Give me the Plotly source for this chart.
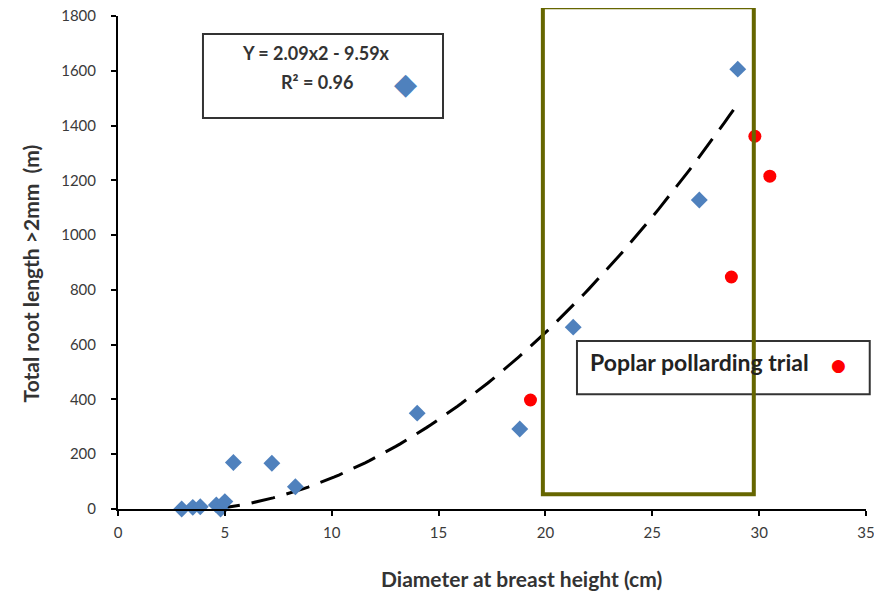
import numpy as np
import plotly.graph_objects as go

# ---- data ----
dbh_main = [2.98, 3.5, 3.85, 4.6, 4.8, 5.0, 5.4, 7.2, 8.3, 14.0, 18.8, 21.3, 27.2, 29.0]
root_main = [0, 6, 8, 15, 0, 27, 170, 167, 81, 350, 292, 664, 1128, 1606]

dbh_poplar = [19.3, 28.7, 29.8, 30.5]
root_poplar = [398, 847, 1361, 1215]

fit_a, fit_b = 2.09, -9.59          # Y = a*x^2 + b*x
fit_x_start, fit_x_end = 4.59, 29.0

x_ticks = [0, 5, 10, 15, 20, 25, 30, 35]
y_ticks = [0, 200, 400, 600, 800, 1000, 1200, 1400, 1600, 1800]

equation_line1 = "Y = 2.09x2 - 9.59x"
equation_line2 = "R² = 0.96"
poplar_text = "Poplar pollarding trial"
x_title = "Diameter at breast height (cm)"
y_title = "Total root length >2mm  (m)"

BLUE = "#4F81BD"
RED = "#FF0000"
OLIVE = "#666600"
FONT = "Lato, Liberation Sans, Arial, sans-serif"
TXT = "#333333"

fx = np.linspace(fit_x_start, fit_x_end, 120)
fy = fit_a * fx ** 2 + fit_b * fx

fig = go.Figure()
fig.add_trace(go.Scatter(
    x=fx, y=fy, mode="lines",
    line=dict(color="black", width=3, dash="24px,12px"),
    hoverinfo="skip", showlegend=False,
))
fig.add_trace(go.Scatter(
    x=dbh_main, y=root_main, mode="markers",
    marker=dict(symbol="diamond", size=13, color=BLUE),
    showlegend=False, cliponaxis=False,
))
fig.add_trace(go.Scatter(
    x=dbh_poplar, y=root_poplar, mode="markers",
    marker=dict(symbol="circle", size=13, color=RED),
    showlegend=False, cliponaxis=False,
))

axis_common = dict(
    showgrid=False, zeroline=False, showline=True, linecolor="black", linewidth=2,
    ticks="outside", ticklen=5, tickwidth=1.5, tickcolor="black", automargin=False,
    ticklabeloverflow="allow",
    tickfont=dict(family=FONT, size=15, color="#3a3a3a"),
)
fig.update_xaxes(range=[0, 35], tickvals=x_ticks, ticklabelstandoff=4, **axis_common)
fig.update_yaxes(range=[0, 1800], tickvals=y_ticks, ticklabelstandoff=12, **axis_common)

shapes = [
    dict(type="rect", xref="paper", yref="paper", x0=0.1136, x1=0.4345, y0=0.793, y1=0.9635,
         line=dict(color="#333333", width=2), fillcolor="rgba(0,0,0,0)"),
    dict(type="rect", xref="paper", yref="paper", x0=0.6136, x1=1.005, y0=0.233, y1=0.341,
         line=dict(color="#333333", width=2), fillcolor="white", layer="below"),
    dict(type="rect", xref="paper", yref="paper", x0=0.568, x1=0.850, y0=0.030, y1=1.018,
         line=dict(color=OLIVE, width=4), fillcolor="rgba(0,0,0,0)"),
]

annotations = [
    dict(xref="paper", yref="paper", x=0.2647, y=0.925, text="<b>" + equation_line1 + "</b>",
         showarrow=False, font=dict(family=FONT, size=18, color=TXT),
         xanchor="center", yanchor="middle"),
    dict(xref="paper", yref="paper", x=0.266, y=0.866, text="<b>" + equation_line2 + "</b>",
         showarrow=False, font=dict(family=FONT, size=18, color=TXT),
         xanchor="center", yanchor="middle"),
    dict(xref="paper", yref="paper", x=0.385, y=0.864, text="◆", showarrow=False,
         font=dict(family="DejaVu Sans", size=30, color=BLUE), xanchor="center", yanchor="middle"),
    dict(xref="paper", yref="paper", x=0.628, y=0.298, text="<b>" + poplar_text + "</b>",
         showarrow=False, font=dict(family=FONT, size=23, color="#222222"),
         xanchor="left", yanchor="middle"),
    dict(xref="paper", yref="paper", x=0.9626, y=0.292, text="●", showarrow=False,
         font=dict(family="DejaVu Sans", size=17, color=RED), xanchor="center", yanchor="middle"),
    dict(xref="paper", yref="paper", x=0.54, y=-0.14, text="<b>" + x_title + "</b>",
         showarrow=False, font=dict(family=FONT, size=21, color=TXT),
         xanchor="center", yanchor="middle"),
    dict(xref="paper", yref="paper", x=-0.1176, y=0.478, text="<b>" + y_title + "</b>",
         showarrow=False, textangle=-90, font=dict(family=FONT, size=21, color=TXT),
         xanchor="center", yanchor="middle"),
]

# page body has an 8px default margin: size the figure so the plot lands where the reference has it
fig.update_layout(
    width=874, height=586,
    margin=dict(l=110, r=16, t=8, b=85),
    paper_bgcolor="white", plot_bgcolor="white",
    shapes=shapes, annotations=annotations,
    showlegend=False,
)

fig.write_html("out.html")
